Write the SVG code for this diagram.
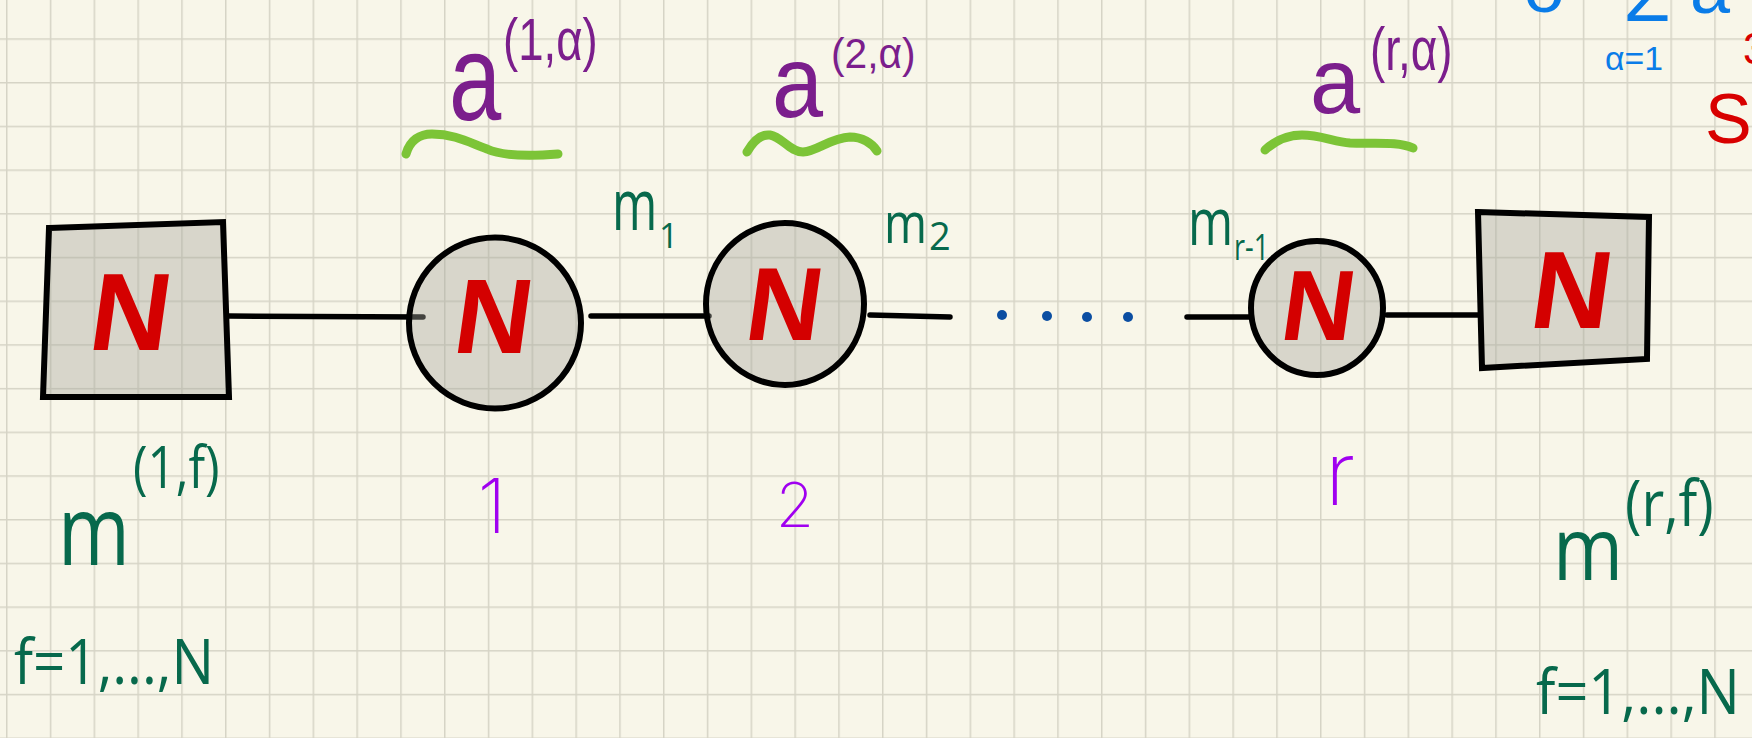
<svg xmlns="http://www.w3.org/2000/svg" width="1752" height="738" viewBox="0 0 1752 738">
<style>
.node{fill:#a8a89e;fill-opacity:0.4;stroke:#000;stroke-width:6;stroke-linejoin:miter}
.edge{stroke:#000;stroke-width:5.5;stroke-linecap:round;fill:none}
.N{font-family:"Liberation Sans",Arial,sans-serif;font-weight:bold;fill:#d40000;text-anchor:middle}
.pa{font-family:"Liberation Sans",Arial,sans-serif;font-weight:400;fill:#7b1e8c}
.gm{font-family:"Open Sans","Liberation Sans",sans-serif;font-weight:400;fill:#07694c}
.pn{font-family:"Inter","Liberation Sans",sans-serif;font-weight:200;fill:#a000f0;text-anchor:middle}
.bl{font-family:"Liberation Sans",Arial,sans-serif;fill:#0a7ce8;text-anchor:middle}
.rd{font-family:"Liberation Sans",Arial,sans-serif;fill:#d80000}
.tilde{fill:none;stroke:#7cc437;stroke-width:9;stroke-linecap:round;stroke-linejoin:round}
.dot{fill:#0b4ea2}
</style>
<defs>
<pattern id="grid" patternUnits="userSpaceOnUse" x="6" y="38.3" width="43.8" height="43.7">
<path d="M0,0.75 H43.8 M0.75,0 V43.7" stroke="#d6d4c6" stroke-width="1.5" fill="none"/>
</pattern>
</defs>
<rect width="1752" height="738" fill="#f8f6e9"/>
<rect width="1752" height="738" fill="url(#grid)"/>

<g id="connectors">
<line class="edge" x1="229" y1="316" x2="423" y2="317"/>
<line class="edge" x1="591" y1="316" x2="709" y2="316"/>
<line class="edge" x1="870" y1="315" x2="950" y2="317"/>
<line class="edge" x1="1187" y1="317" x2="1250" y2="317"/>
<line class="edge" x1="1387" y1="315" x2="1480" y2="315"/>
<circle class="dot" cx="1002" cy="315" r="5"/>
<circle class="dot" cx="1047" cy="316" r="5"/>
<circle class="dot" cx="1087" cy="317" r="5"/>
<circle class="dot" cx="1128" cy="317" r="5"/>
</g>

<g id="node-left">
<polygon class="node" points="49,228 223,222 229,397 43,397"/>
<text class="N" font-size="110" transform="translate(126,350) skewX(-8)">N</text>
</g>
<g id="node-1">
<ellipse class="node" cx="495" cy="323" rx="86" ry="85.5"/>
<text class="N" font-size="106" transform="translate(489,353) skewX(-8)">N</text>
</g>
<g id="node-2">
<ellipse class="node" cx="785" cy="304" rx="79" ry="81"/>
<text class="N" font-size="104" transform="translate(780,340) skewX(-8)">N</text>
</g>
<g id="node-r">
<ellipse class="node" cx="1317" cy="308" rx="66" ry="67"/>
<text class="N" font-size="100" transform="translate(1314,340) skewX(-8)">N</text>
</g>
<g id="node-right">
<polygon class="node" points="1478,212 1649,217 1647,359 1482,368"/>
<text class="N" font-size="110" transform="translate(1567,328) skewX(-8)">N</text>
</g>

<g id="labels">
<text class="pa" font-size="122" transform="translate(449,120) scale(0.77,1)">a</text>
<text class="pa" font-size="60" transform="translate(503,60) scale(0.76,1)">(1,α)</text>
<path class="tilde" d="M406,154 C410,140 420,134 432,134 C455,134 470,143 487,149 C500,155 520,157 558,154"/>

<text class="pa" font-size="102" transform="translate(772,117) scale(0.9,1)">a</text>
<text class="pa" font-size="42" transform="translate(831,68) scale(0.97,1)">(2,α)</text>
<path class="tilde" d="M747,152 C754,140 762,134 770,135 C782,137 790,152 803,152 C818,151 830,138 850,137 C862,137 872,143 877,151"/>

<text class="pa" font-size="92" transform="translate(1310,113) scale(0.98,1)">a</text>
<text class="pa" font-size="62" transform="translate(1370,70) scale(0.74,1)">(r,α)</text>
<path class="tilde" d="M1265,150 C1276,140 1290,135 1302,135 C1320,135 1335,142 1350,143 C1375,144 1398,141 1413,148"/>

<text class="gm" font-size="72" transform="translate(612,230) scale(0.68,1)">m</text>
<text class="gm" x="659" y="248" font-size="34">1</text>
<text class="gm" font-size="56" transform="translate(884,243) scale(0.83,1)">m</text>
<text class="gm" x="929" y="250" font-size="38">2</text>
<text class="gm" font-size="65" transform="translate(1188,245) scale(0.75,1)">m</text>
<text class="gm" font-size="36" transform="translate(1234,260) scale(0.75,1)">r-1</text>

<text class="gm" font-size="97" transform="translate(58,565) scale(0.8,1)">m</text>
<text class="gm" font-size="58" transform="translate(133,488) scale(0.85,1)">(1,f)</text>
<text class="gm" x="14" y="684" font-size="62" textLength="200" lengthAdjust="spacingAndGlyphs">f=1,...,N</text>

<text class="gm" font-size="88" transform="translate(1553,580) scale(0.86,1)">m</text>
<text class="gm" font-size="64" transform="translate(1625,526) scale(0.87,1)">(r,f)</text>
<text class="gm" x="1536" y="714" font-size="62" textLength="204" lengthAdjust="spacingAndGlyphs">f=1,...,N</text>

<text class="pn" x="492" y="533" font-size="76">1</text>
<text class="pn" x="795" y="527" font-size="62">2</text>
<text class="pn" x="1340" y="505" font-size="88">r</text>

<text class="bl" x="1546" y="12" font-size="72">σ</text>
<text class="bl" x="1647" y="21" font-size="76">Σ</text>
<text class="bl" x="1710" y="13" font-size="72">a</text>
<text class="bl" x="1634" y="70" font-size="34" textLength="58" lengthAdjust="spacingAndGlyphs">α=1</text>
<text class="rd" x="1705" y="143" font-size="70">SU</text>
<text class="rd" x="1743" y="64" font-size="44">3</text>
</g>
</svg>
